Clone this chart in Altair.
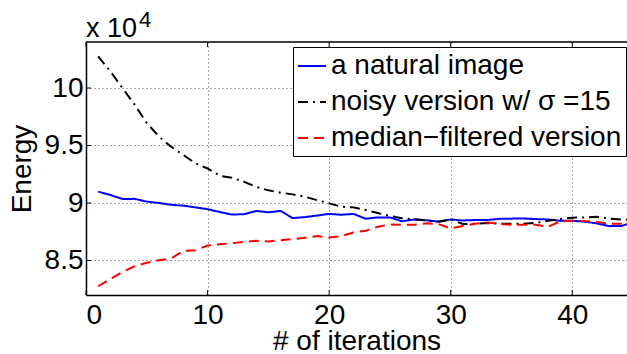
import altair as alt
import pandas as pd

# ---------------- data ----------------
iterations = list(range(1, 46))
natural = [9.099, 9.07, 9.035, 9.036, 9.012, 9.0, 8.984, 8.977, 8.962, 8.946, 8.922, 8.899, 8.903, 8.931, 8.919, 8.931,
           8.869, 8.877, 8.891, 8.905, 8.898, 8.905, 8.863, 8.875, 8.875, 8.841, 8.857, 8.85, 8.838, 8.857, 8.848,
           8.852, 8.852, 8.862, 8.864, 8.866, 8.86, 8.857, 8.845, 8.845, 8.838, 8.823, 8.80, 8.80, 8.83]
noisy = [10.276, 10.145, 10.0, 9.855, 9.695, 9.578, 9.49, 9.418, 9.345, 9.30, 9.237, 9.22, 9.185, 9.14, 9.11, 9.09,
         9.075, 9.055, 9.025, 8.997, 8.967, 8.962, 8.939, 8.913, 8.887, 8.867, 8.858, 8.849, 8.837, 8.857, 8.817,
         8.82, 8.825, 8.82, 8.82, 8.82, 8.827, 8.845, 8.86, 8.872, 8.875, 8.88, 8.865, 8.857, 8.855]
median = [8.276, 8.34, 8.40, 8.45, 8.48, 8.503, 8.517, 8.584, 8.59, 8.63, 8.642, 8.65, 8.663, 8.671, 8.666, 8.677,
          8.686, 8.698, 8.712, 8.70, 8.712, 8.744, 8.758, 8.793, 8.814, 8.81, 8.81, 8.823, 8.817, 8.779, 8.80,
          8.82, 8.83, 8.82, 8.81, 8.81, 8.81, 8.793, 8.84, 8.845, 8.843, 8.835, 8.82, 8.82, 8.84]
series_names = ["a natural image", "noisy version w/ \u03c3 =15", "median\u2212filtered version"]
x_ticks = [0, 10, 20, 30, 40]
y_ticks = [8.5, 9, 9.5, 10]
scale_label = ["x 10"]
exponent_label = ["4"]

rows = []
for name, vals in zip(series_names, [natural, noisy, median]):
    for it, v in zip(iterations, vals):
        rows.append({"iter": it, "energy": v, "series": name})
df = pd.DataFrame(rows)

# ---------------- styling ----------------
W, H = 541, 253
FONT = "Liberation Sans"
xs = alt.Scale(domain=[0, 44.5], nice=False, zero=False)
ys = alt.Scale(domain=[8.2, 10.4], nice=False, zero=False)
XT = "# of iterations"
YT = "Energy"

lines = alt.Chart(df).mark_line(strokeWidth=2, clip=True).encode(
    x=alt.X("iter:Q", scale=xs, title=XT,
            axis=alt.Axis(values=x_ticks, grid=True, labelPadding=6, titleY=32, titleBaseline="top")),
    y=alt.Y("energy:Q", scale=ys, title=YT,
            axis=alt.Axis(values=y_ticks, grid=True, format="~g", labelPadding=3,
                          titleX=-50, titleY=H / 2, titleAngle=270, titleAlign="center",
                          titleBaseline="bottom")),
    color=alt.Color("series:N",
                    scale=alt.Scale(domain=series_names, range=["#0000ff", "#000000", "#ff0000"]),
                    legend=alt.Legend(title=None)),
    strokeDash=alt.StrokeDash("series:N",
                              scale=alt.Scale(domain=series_names, range=[[1, 0], [10, 5, 2, 5], [10, 6]]),
                              legend=alt.Legend(title=None)),
)

xt_df = pd.DataFrame({"iter": x_ticks})
yt_df = pd.DataFrame({"energy": y_ticks})

bottom_ticks = alt.Chart(xt_df).mark_rule(color="black", strokeWidth=1).encode(
    x=alt.X("iter:Q", scale=xs, title=XT), y=alt.value(H - 5), y2=alt.value(H))
top_ticks = alt.Chart(xt_df).mark_rule(color="black", strokeWidth=1).encode(
    x=alt.X("iter:Q", scale=xs, title=XT), y=alt.value(0), y2=alt.value(5))
left_ticks = alt.Chart(yt_df).mark_rule(color="black", strokeWidth=1).encode(
    y=alt.Y("energy:Q", scale=ys, title=YT), x=alt.value(0), x2=alt.value(5))
top_border = alt.Chart(pd.DataFrame({"k": [0]})).mark_rule(color="black", strokeWidth=1.5).encode(
    x=alt.value(0), x2=alt.value(W), y=alt.value(0))
scale_text = alt.Chart(pd.DataFrame({"s": scale_label})).mark_text(
    font=FONT, fontSize=27, align="left", baseline="alphabetic", color="black").encode(
    text="s:N", x=alt.value(0), y=alt.value(-5))
exponent = alt.Chart(pd.DataFrame({"s": exponent_label})).mark_text(
    font=FONT, fontSize=22, align="left", baseline="alphabetic", color="black").encode(
    text="s:N", x=alt.value(53), y=alt.value(-15))

chart = alt.layer(lines, bottom_ticks, top_ticks, left_ticks, top_border, scale_text, exponent).properties(
    width=W, height=H,
    autosize=alt.AutoSizeParams(type="none"),
    padding={"left": 86, "top": 42, "right": 0, "bottom": 59},
).configure_view(stroke=None).configure_axis(
    labelFont=FONT, labelFontSize=28, labelColor="black",
    titleFont=FONT, titleFontSize=28, titleFontWeight="normal", titleColor="black",
    domainColor="black", domainWidth=1.5, ticks=False, tickSize=0,
    gridColor="#555555", gridDash=[1, 3], gridWidth=1, gridOpacity=1,
).configure_legend(
    orient="none", legendX=207, legendY=5, fillColor="white", strokeColor="black", strokeWidth=1,
    padding=4, cornerRadius=0, symbolType="stroke", symbolSize=784, symbolStrokeWidth=2,
    labelFont=FONT, labelFontSize=28, labelColor="black", labelLimit=500, labelOffset=4,
    rowPadding=7, symbolOffset=0,
)

chart.save("out.html", embed_options={"renderer": "svg", "actions": False})
